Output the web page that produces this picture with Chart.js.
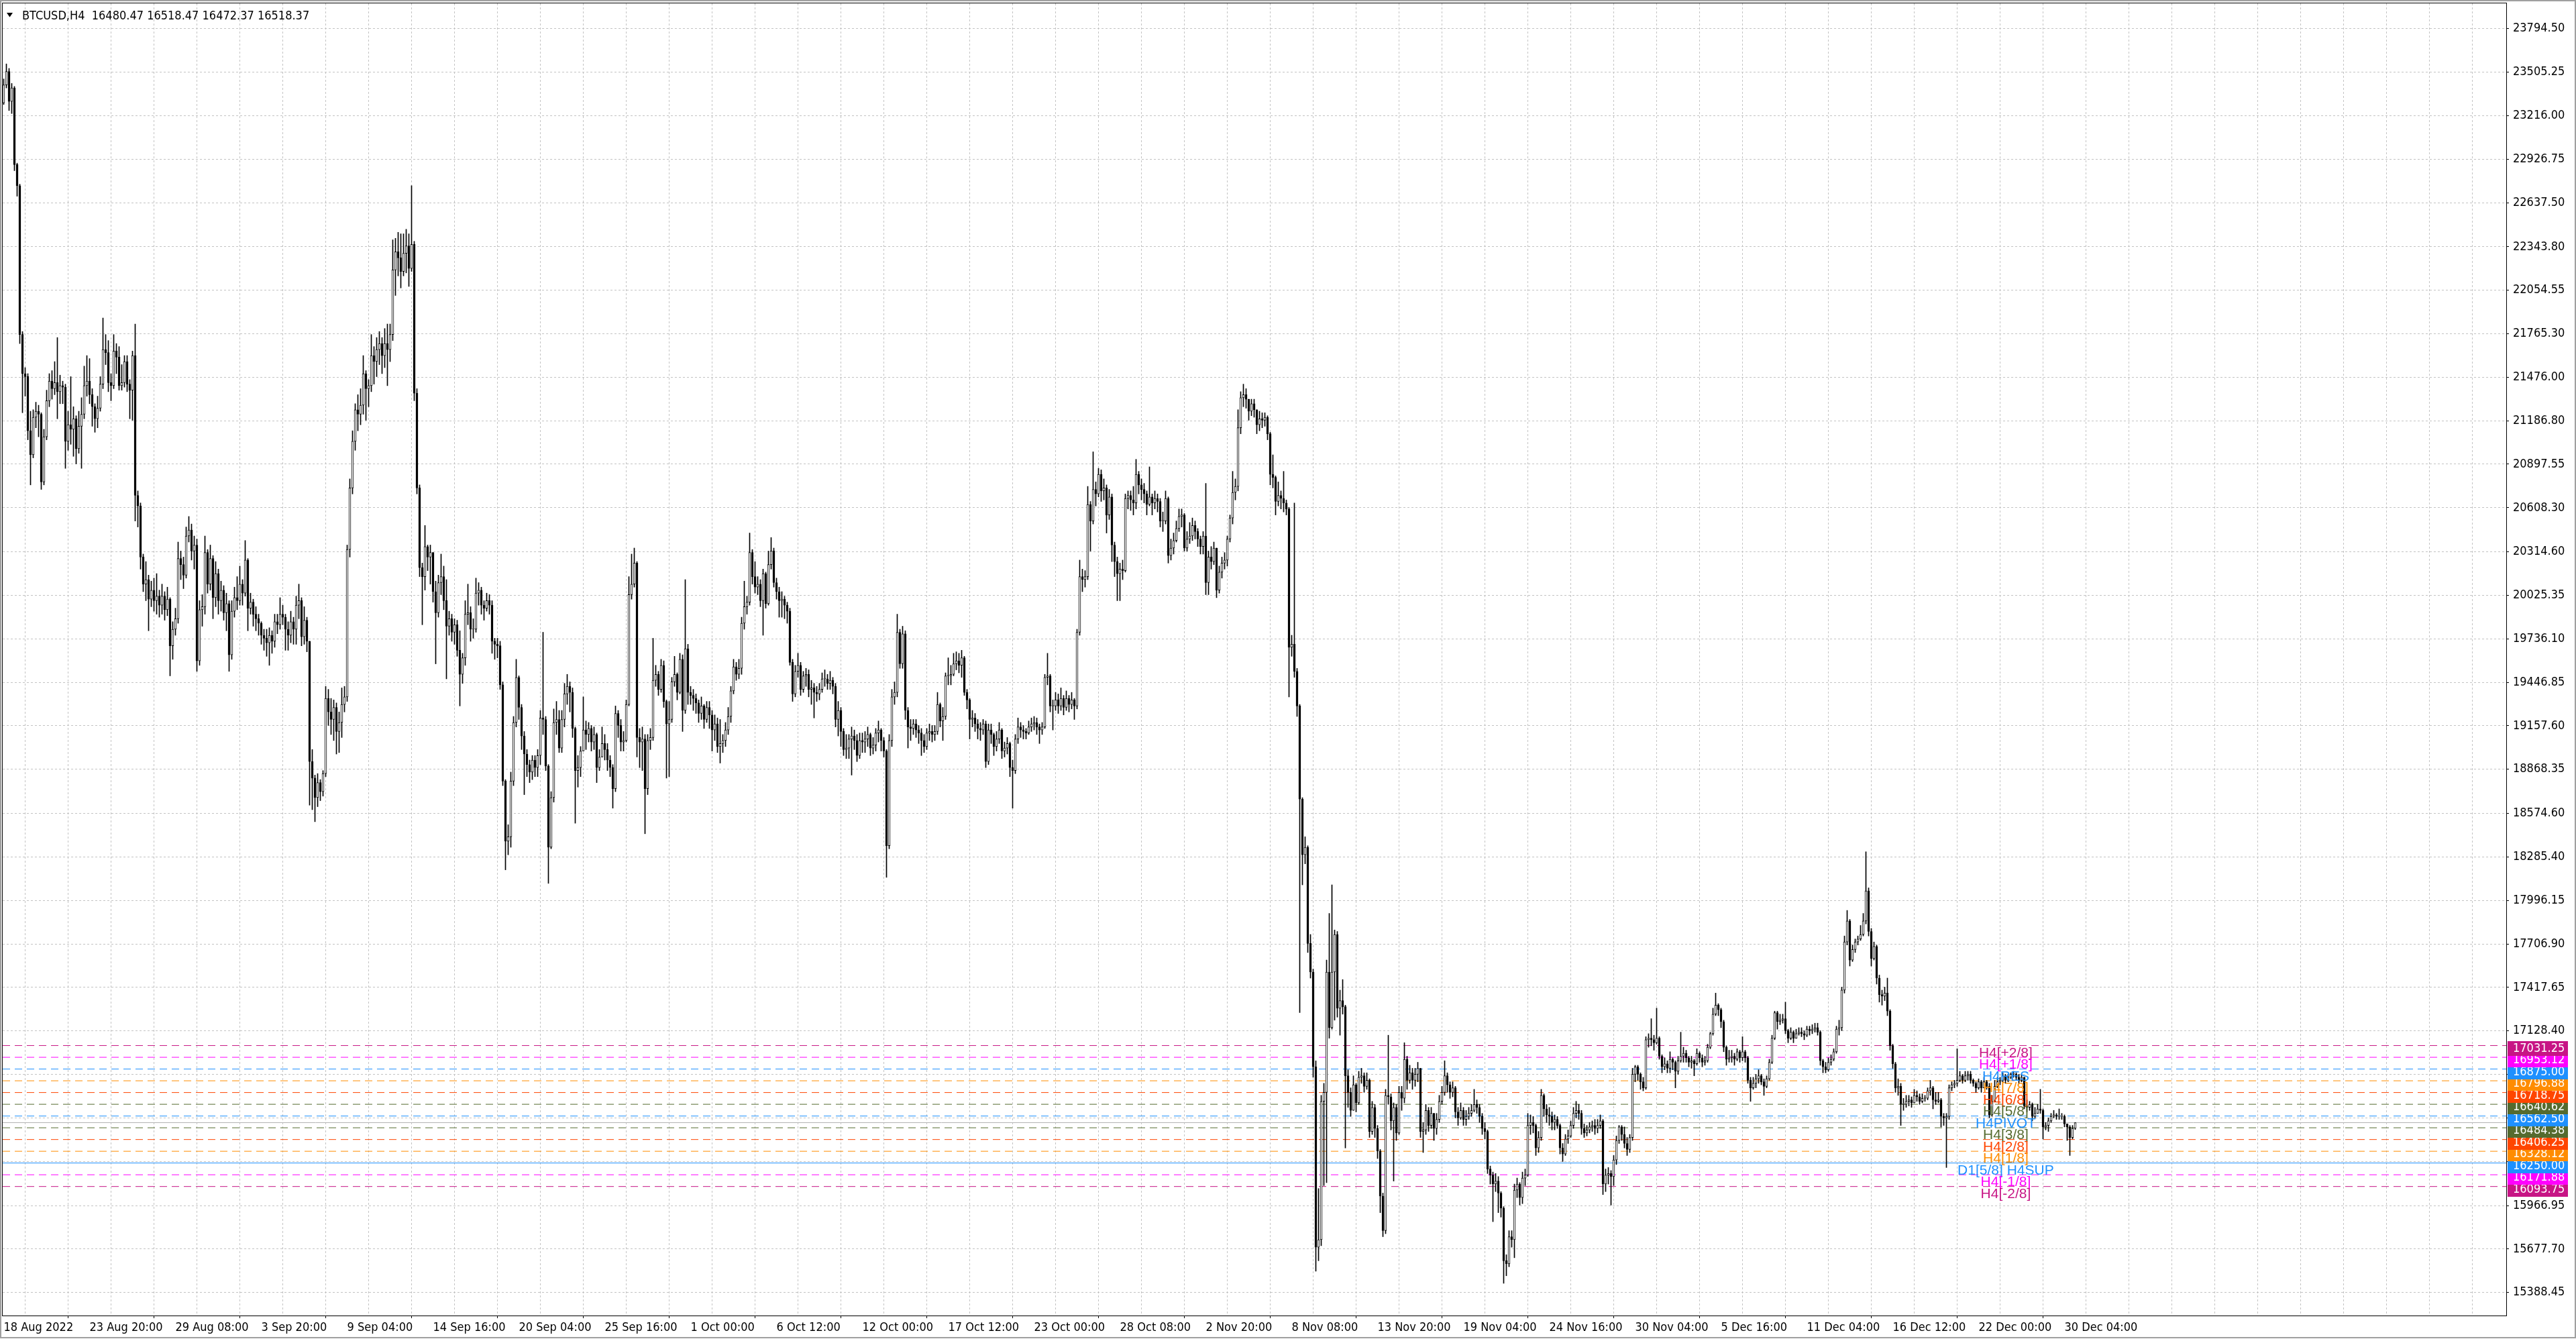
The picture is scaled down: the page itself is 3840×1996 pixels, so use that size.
<!DOCTYPE html>
<html>
<head>
<meta charset="utf-8">
<title>BTCUSD,H4</title>
<script src="https://cdn.jsdelivr.net/npm/chart.js@4.4.0/dist/chart.umd.min.js"></script>
<style>
  html, body { margin: 0; padding: 0; background: #fff; }
  #wrap { width: 3840px; height: 1996px; }
</style>
</head>
<body>
<div id="wrap"><canvas id="chart" width="3840" height="1996"></canvas></div>
<script>
// BTCUSD H4 candles, bar 0 = 18 Aug 2022 00:00, last bar = 30 Dec 2022 04:00
const closes = [
  23420,23510,23310,23400,22890,22750,21760,21500,21480,21120,20960,21210,21250,21230,20780,21080, // 0
  21320,21450,21400,21440,21380,21420,21410,21050,21160,21130,21200,21000,21150,21230,21420,21450, // 16
  21360,21280,21200,21270,21430,21660,21640,21440,21420,21650,21610,21420,21440,21580,21430,21390, // 32
  21620,20690,20620,20280,20100,20130,20000,20060,19990,20020,19960,20020,19930,20000,19690,19800, // 48
  19870,20270,20230,20160,20420,20460,20320,20360,19590,19930,19950,20310,20100,20270,20010,20170, // 64
  19990,20060,19910,19970,19630,19920,20010,19990,20100,20040,20260,19940,19980,19900,19870,19840, // 80
  19760,19740,19710,19760,19720,19850,19830,19900,19880,19800,19760,19850,19800,19960,19990,19750, // 96
  19860,19720,18920,18810,18680,18780,18720,18840,19340,19250,19200,19280,19120,19180,19300,19350, // 112
  20330,20740,21050,21260,21230,21290,21500,21400,21420,21620,21580,21660,21700,21620,21700,21660, // 128
  21760,22190,22310,22270,22180,22300,22350,22200,22360,21370,20740,20210,20150,20350,20280,20310, // 144
  20050,19910,20110,20150,19990,19820,19870,19780,19830,19660,19500,19610,19900,19910,19800,19800, // 160
  20040,20060,19960,19940,19990,19960,19720,19700,19690,19430,18790,18390,18420,18790,19180,19480, // 176
  19280,19090,18970,18900,18850,18930,18880, // 192
  18960,19210,19200,18890,18350,18680,19180,19200,19010, // 199
  19200,19370,19420,19380,19140,18860,18880,18990,19130,19100,19140,19050,19100,18880,18950,19040, // 208
  19000,18930,18880,18740,19240,19160,19050,19060,19300,20030,20100,20240,19080,19050,19070,18740, // 224
  19060,19080,19460,19500,19400,19560,19320,19170,19200,19450,19500,19380,19600,19260,19670,19380, // 240
  19360,19340,19310,19240,19290,19200,19280,19230,19130,19170,19020,19040,19060,19130,19220,19390, // 256
  19550,19500,19540,19840,19950,19980,20310,20150,20080,20100,19990,20170,19970,20230,20320,20110, // 272
  20050,19990,20000,19960,19920,19580,19370,19520,19560,19400,19490,19500,19400,19410,19380,19370, // 288
  19400,19470,19470,19440,19460,19420,19200,19260,19120,19000,19010,19070,19090,19060,18960,19060, // 304
  19050,19070,19100,19010,19030,19110,19130,19060,18990,18360,19060,19350,19380,19780,19570,19770, // 320
  19260,19150,19140,19170,19130,19110,19060,19020,19110,19120,19100,19120,19300,19190,19220,19490, // 336
  19490,19500,19570,19590,19560,19610,19380,19330,19200,19210,19170,19140,19130,19170,18920,19130, // 352
  19100,19020,19070,19130,18990,19010,19040,18880,18860,19070,19150,19130,19120,19110,19150,19170, // 368
  19180,19150,19130,19150,19480,19490,19290,19290,19330,19290,19340,19280,19340,19300,19330, // 384
  19290,19780,20150,20130,20150,20630,20520,20730,20700,20830,20720,20740,20560,20680,20360,20250,20170, // 399
  20200,20190,20670,20690,20660,20640,20830,20760,20730,20700,20630,20680,20640,20670,20650,20520, // 416
  20520,20670,20290,20340,20390,20470,20550,20560,20340,20400,20420,20490,20450,20400,20350,20420, // 432
  20110,20280,20250,20340,20060,20180,20240,20260,20400,20540,20710,20750,21140,21340,21360,21330, // 448
  21250,21300,21260,21160,21200,21190,21210,21100,20830,20810,20650,20690,20670,20640,20600,19680, // 464
  19700,19520,19290,18670,18300,18350,17710,17520,16890,15690,15740,16660,16720,17520,17150,17520, // 480
  17770,17280,17330,17290,16830,16720,16600,16770,16650,16820,16830,16760,16800,16460,16620,16480, // 496
  16330,16030,15800,16700,16690,16530,16620,16450,16720,16680,16940,16800,16850,16800,16840,16880, // 512
  16460,16470,16600,16500,16580,16480,16540,16660,16720,16830,16770,16720,16750,16590,16550,16600, // 528
  16540,16560,16580,16600,16640,16620,16560,16480,16460,16210,16170,16110,16130,16050,15950,15600, // 544
  15580,15760,15740,16070,16110,16020,16150,16170,16500,16520,16500,16350,16420,16700,16610,16570, // 560
  16560,16520,16540,16500,16350,16310,16410,16430,16500,16580,16600,16580,16480,16450,16470,16490, // 576
  16500,16480,16500,16530,16110,16170,16180, // 592
  16160,16270,16400,16490,16440,16380,16340,16420,16840,16890,16840,16790,16750,17070,17080,17070,17050, // 599
  17080,16960,16890,16910,16880,16940,16920,16860,16930,16960,16980,16950,16920,16930,16910,16980, // 616
  16950,16920,16930,17020,17110,17240,17300,17270,17190,17020,16940,16950,16960,16940,16990,16950, // 632
  16990,16950,16800,16750,16780,16810,16830,16790,16760,16810,16920,17080,17250,17190,17200,17210, // 648
  17130,17080,17120,17080,17110,17120,17110,17100,17140,17130,17140,17150,17120,16930,16890,16870, // 664
  16920,16940,16990,17140,17150,17400,17720,17860,17600,17670,17720,17740,17770,17860,18060,17790, // 680
  17610,17690,17480,17370,17360,17380,17260,17030,16910,16750,16760,16640,16640,16660,16670,16650, // 696
  16700,16690,16660,16680,16680,16730,16750,16670,16660,16670,16560,16550,16560,16750,16770,16780, // 712
  16800,16830,16800,16830,16840,16800,16780,16750,16790,16750,16790,16760,16570,16660,16760,16790, // 728
  16800,16830,16800,16820,16840,16840,16820,16800,16820,16630,16620,16640,16560,16580,16610,16600, // 744
  16490,16500,16530,16560,16570,16560,16560,16560,16510,16490,16420,16480.47,16518.37 // 760
];
const highs = [
  23460,23560,23530,23430,23410,22900,22760,21780,21540,21500,21250,21260,21310,21290,21240,21130, // 0
  21390,21500,21520,21580,21740,21490,21450,21430,21250,21480,21280,21220,21250,21340,21550,21620, // 16
  21600,21400,21300,21350,21480,21870,21760,21720,21500,21760,21700,21680,21560,21620,21620,21460, // 32
  21650,21830,20720,20640,20300,20250,20160,20120,20140,20170,20060,20100,20050,20080,20010,19850, // 48
  19940,20380,20320,20280,20480,20550,20500,20420,20400,19990,20030,20420,20330,20360,20290,20250, // 64
  20200,20120,20090,20040,19990,19990,20080,20150,20220,20130,20390,20270,20040,20000,19950,19900, // 80
  19850,19800,19800,19810,19790,19900,19900,20010,19960,19900,19850,19920,19880,20020,20100,20010, // 96
  19950,19880,19720,19000,18830,18840,18800,18860,19420,19400,19340,19330,19310,19250,19410,19420, // 112
  20360,20800,21120,21300,21360,21400,21620,21520,21460,21760,21680,21740,21780,21740,21800,21830, // 128
  21830,22390,22400,22440,22430,22430,22460,22430,22750,22380,21400,20760,20240,20490,20360,20360, // 144
  20300,20120,20160,20300,20220,20130,19920,19900,19870,19860,19790,19640,19990,20100,19950,19870, // 160
  20140,20110,20080,19990,20040,20030,19990,19740,19740,19720,19450,18800,18500,18850,19220,19600, // 176
  19490,19300,19120,19000,18930,18960,18960, // 192
  19000,19260,19780,19220,18900,18720,19270,19320,19260, // 199
  19260,19440,19500,19450,19410,19150,18960,19020,19350,19190,19180,19160,19150,19110,19000,19150, // 208
  19100,19040,18960,18900,19290,19260,19200,19120,19330,20150,20300,20340,20250,19140,19150,19100, // 224
  19100,19140,19740,19560,19520,19600,19590,19330,19320,19480,19620,19510,19640,19630,20130,19700, // 240
  19420,19400,19370,19330,19350,19300,19320,19320,19260,19230,19210,19200,19100,19180,19280,19420, // 256
  19600,19580,19600,19880,20120,20020,20440,20330,20250,20150,20130,20200,20180,20320,20410,20340, // 272
  20140,20080,20050,20020,19980,19940,19600,19560,19640,19580,19520,19540,19530,19460,19440,19420, // 288
  19440,19510,19530,19500,19520,19480,19440,19320,19280,19140,19100,19100,19150,19130,19100,19110, // 304
  19110,19120,19150,19110,19080,19140,19190,19140,19080,19000,19100,19400,19450,19900,19800,19820, // 320
  19790,19280,19200,19200,19200,19160,19140,19100,19140,19170,19160,19160,19380,19310,19280,19510, // 336
  19610,19560,19640,19650,19640,19660,19620,19400,19340,19260,19240,19200,19180,19200,19190,19170, // 352
  19170,19110,19120,19180,19140,19050,19080,19050,18930,19100,19210,19180,19160,19140,19190,19210, // 368
  19220,19210,19170,19180,19500,19640,19500,19330,19380,19370,19410,19360,19390,19360,19380, // 384
  19340,19800,20260,20200,20190,20750,20650,20980,20780,20870,20860,20800,20760,20730,20700,20380,20280, // 399
  20240,20260,20700,20720,20720,20750,20930,20850,20800,20770,20720,20880,20700,20720,20700,20670, // 416
  20580,20720,20680,20400,20440,20520,20600,20600,20570,20450,20510,20540,20520,20470,20420,20450, // 432
  20770,20320,20350,20380,20340,20220,20280,20310,20420,20560,20850,20800,21260,21380,21430,21400, // 448
  21320,21330,21330,21260,21250,21240,21240,21220,21110,20960,20820,20780,20720,20850,20660,20610, // 464
  19760,20640,19540,19300,18680,18420,18360,17770,17540,16930,16080,16700,16780,17600,17910,18100, // 480
  17800,17790,17400,17470,17300,16870,16750,16830,16780,16860,16880,16850,16850,16810,16660,16640, // 496
  16500,16340,16050,16740,17100,16710,16650,16640,16760,16760,17050,16960,16900,16880,16880,16920, // 512
  16880,16520,16640,16620,16620,16560,16580,16700,16760,16930,16850,16790,16790,16760,16620,16650, // 528
  16620,16600,16620,16640,16740,16670,16640,16580,16520,16470,16230,16190,16180,16160,16060,15960, // 544
  15640,15800,15800,16110,16150,16120,16190,16210,16580,16570,16560,16510,16460,16740,16710,16640, // 560
  16620,16590,16570,16560,16510,16380,16440,16470,16530,16620,16660,16640,16600,16510,16500,16520, // 576
  16530,16540,16540,16570,16540,16210,16220, // 592
  16200,16300,16430,16500,16500,16490,16420,16440,16880,16900,16900,16850,16820,17090,17110,17210,17100, // 599
  17280,17090,16970,16950,16930,16990,16950,16930,16960,17120,17020,17000,16960,16960,16940,17010, // 616
  16990,16970,16960,17040,17120,17280,17380,17310,17280,17200,17030,17000,17000,16980,17010,17000, // 632
  17090,17000,16960,16820,16820,16840,16870,16840,16810,16830,16940,17100,17260,17260,17240,17240, // 648
  17320,17140,17150,17130,17140,17150,17150,17130,17160,17160,17170,17180,17180,17130,16940,16920, // 664
  16950,16970,17010,17160,17200,17420,17760,17930,17870,17700,17740,17760,17830,17910,18320,18080, // 680
  17810,17720,17700,17500,17400,17420,17480,17270,17040,16920,16810,16780,16680,16700,16700,16690, // 696
  16740,16730,16710,16710,16700,16750,16800,16760,16720,16720,16680,16580,16580,16770,16790,16800, // 712
  17010,16860,16840,16860,16860,16860,16810,16790,16810,16800,16820,16800,16780,16700,16800,16820, // 728
  16820,16850,16840,16840,16850,16860,16850,16840,16840,16820,16670,16660,16650,16620,16640,16740, // 744
  16610,16520,16550,16580,16600,16580,16610,16580,16570,16510,16500,16500,16518.47 // 760
];
const lows = [
  23290,23400,23250,23230,22850,22680,21700,21240,21350,21060,20760,20940,21140,21080,20730,20760, // 0
  21060,21280,21330,21360,21200,21300,21300,20870,20990,21030,20950,20900,20970,20870,21200,21350, // 16
  21300,21150,21110,21140,21250,21400,21560,21380,21320,21400,21500,21390,21390,21410,21380,21200, // 32
  21190,20520,20480,20200,20050,19990,19790,19950,19920,19900,19880,19900,19860,19890,19490,19600, // 48
  19760,19840,20130,20070,20140,20380,20260,20200,19520,19560,19820,19900,20040,20060,19870,19950, // 64
  19900,19920,19860,19790,19520,19600,19880,19930,19960,19960,20020,19790,19900,19820,19790,19760, // 80
  19700,19660,19620,19560,19640,19680,19770,19800,19830,19660,19660,19710,19700,19700,19870,19690, // 96
  19700,19650,18630,18600,18520,18620,18660,18690,18820,19160,19100,19060,18970,18980,19080,19250, // 112
  19320,20280,20700,20990,21120,21160,21230,21190,21280,21380,21430,21480,21560,21500,21540,21420, // 128
  21580,21720,22020,22150,22070,22150,22170,22080,22180,21320,20700,20150,19830,20060,20190,20100, // 144
  19980,19570,19880,20030,19930,19470,19760,19720,19700,19620,19290,19440,19560,19830,19720,19740, // 160
  19780,19960,19900,19860,19920,19900,19640,19600,19610,19400,18760,18200,18300,18350,18760,19150, // 176
  19200,19000,18700,18820,18780,18800,18820, // 192
  18820,18900,19100,18860,18110,18340,18650,19100,18980, // 199
  18980,19150,19300,19250,19080,18510,18750,18820,19000,19000,19050,18990,19000,18780,18860,18980, // 208
  18930,18860,18820,18610,18720,19080,18990,18990,19050,19290,20000,20080,18950,18880,18860,18440, // 224
  18700,19000,19060,19420,19360,19380,19280,18810,18820,19180,19420,19330,19370,19120,19240,19300, // 240
  19300,19260,19240,19180,19200,19140,19180,19140,18990,19060,18980,18910,18980,19020,19100,19180, // 256
  19370,19460,19470,19500,19800,19900,19960,20100,20040,20030,19950,19760,19940,19960,20200,20080, // 272
  20000,19880,19880,19870,19840,19560,19320,19350,19480,19360,19380,19420,19350,19300,19210,19320, // 288
  19330,19380,19420,19400,19400,19370,19150,19090,19020,18960,18940,18940,18830,19000,18920,18940, // 304
  18980,18980,19020,18960,18970,18990,19050,18990,18950,18150,18340,19020,19300,19350,19540,19540, // 320
  19200,19010,19060,19100,19080,19040,18960,18980,19000,19060,19050,19060,19100,19150,19060,19200, // 336
  19430,19430,19490,19530,19510,19480,19360,19270,19070,19150,19120,19070,19060,19100,18880,18900, // 352
  19040,18960,18990,19040,18940,18950,18970,18820,18610,18840,19040,19080,19070,19070,19100,19120, // 368
  19130,19100,19040,19100,19140,19430,19250,19130,19260,19240,19260,19230,19260,19250,19270, // 384
  19200,19270,19760,20050,20080,20130,20320,20500,20620,20680,20650,20660,20440,20530,20250,20150,19990, // 399
  19990,20130,20180,20600,20590,20560,20600,20700,20660,20640,20560,20620,20560,20600,20580,20480, // 416
  20450,20500,20240,20260,20300,20380,20450,20480,20320,20320,20370,20390,20400,20350,20300,20300, // 432
  20030,20030,20200,20230,20010,20040,20140,20200,20220,20380,20500,20660,20720,21100,21280,21270, // 448
  21190,21220,21210,21100,21120,21140,21150,21060,20760,20740,20560,20620,20600,20580,20560,19350, // 464
  19620,19480,19220,17250,18100,18240,17650,17480,16820,15530,15600,15700,16100,16120,17080,17140, // 480
  17200,17220,17100,17240,16350,16620,16560,16600,16590,16640,16780,16720,16740,16420,16440,16420, // 496
  16280,15920,15760,15780,16640,16470,16130,16400,16440,16600,16650,16740,16780,16740,16760,16790, // 512
  16420,16320,16440,16460,16480,16400,16440,16520,16640,16700,16720,16680,16690,16550,16500,16540, // 528
  16500,16500,16540,16560,16590,16580,16520,16440,16410,16180,16110,15860,16060,15920,15890,15450, // 544
  15500,15560,15690,15620,16020,15970,15980,16100,16160,16440,16450,16300,16320,16400,16560,16520, // 560
  16500,16470,16470,16480,16310,16260,16300,16380,16420,16480,16550,16540,16440,16420,16430,16450, // 576
  16460,16440,16450,16480,16040,16060,16110, // 592
  15970,16100,16240,16380,16400,16350,16300,16320,16400,16790,16800,16740,16730,16740,17020,17030,17000, // 599
  17040,16940,16850,16870,16850,16850,16870,16750,16840,16920,16920,16920,16890,16880,16830,16900, // 616
  16920,16890,16900,16920,17010,17100,17230,17230,17150,16990,16900,16920,16920,16900,16930,16920, // 632
  16930,16920,16780,16660,16740,16750,16780,16770,16700,16750,16800,16910,17070,17140,17170,17180, // 648
  17110,17050,17070,17050,17080,17100,17090,17070,17090,17100,17110,17120,17100,16900,16850,16850, // 664
  16860,16900,16930,16980,17100,17130,17380,17700,17560,17590,17650,17700,17730,17760,17840,17760, // 680
  17560,17600,17440,17320,17300,17330,17230,17000,16880,16720,16700,16500,16600,16620,16630,16620, // 696
  16660,16660,16640,16650,16660,16670,16700,16610,16640,16650,16490,16500,16220,16540,16730,16750, // 712
  16760,16790,16780,16790,16800,16780,16760,16720,16740,16720,16750,16740,16550,16560,16700,16750, // 728
  16770,16790,16780,16790,16810,16820,16800,16780,16790,16610,16590,16600,16530,16550,16580,16580, // 744
  16410,16470,16460,16520,16550,16540,16540,16540,16490,16400,16300,16410,16472.37 // 760
];
const firstOpen = 23300;

// time axis labels, one every 32 bars
const timeLabels = ['18 Aug 2022', '23 Aug 20:00', '29 Aug 08:00', '3 Sep 20:00', '9 Sep 04:00',
  '14 Sep 16:00', '20 Sep 04:00', '25 Sep 16:00', '1 Oct 00:00', '6 Oct 12:00', '12 Oct 00:00',
  '17 Oct 12:00', '23 Oct 00:00', '28 Oct 08:00', '2 Nov 20:00', '8 Nov 08:00', '13 Nov 20:00',
  '19 Nov 04:00', '24 Nov 16:00', '30 Nov 04:00', '5 Dec 16:00', '11 Dec 04:00', '16 Dec 12:00',
  '22 Dec 00:00', '30 Dec 04:00'];

const priceTicks = [23794.50, 23505.25, 23216.00, 22926.75, 22637.50, 22343.80, 22054.55, 21765.30,
  21476.00, 21186.80, 20897.55, 20608.30, 20314.60, 20025.35, 19736.10, 19446.85, 19157.60, 18868.35,
  18574.60, 18285.40, 17996.15, 17706.90, 17417.65, 17128.40, 16839.15, 16549.90, 16260.65, 15966.95,
  15677.70, 15388.45];

// Murrey-style H4 levels
const levelPrices = [17031.25, 16953.12, 16875.00, 16796.88, 16718.75, 16640.62, 16562.50,
  16484.38, 16406.25, 16328.12, 16250.00, 16171.88, 16093.75];
const levelNames = ['H4[+2/8]', 'H4[+1/8]', 'H4RES', 'H4[7/8]', 'H4[6/8]', 'H4[5/8]', 'H4PIVOT',
  'H4[3/8]', 'H4[2/8]', 'H4[1/8]', 'D1[5/8] H4SUP', 'H4[-1/8]', 'H4[-2/8]'];
const bidPrice = 16518.37;
const headerText = 'BTCUSD,H4  16480.47 16518.47 16472.37 16518.37';

// styles
const levelColors = ['#c71585', '#ff00ff', '#1e90ff', '#ff8c00', '#ff4500', '#556b2f', '#1e90ff',
  '#556b2f', '#ff4500', '#ff8c00', '#1e90ff', '#ff00ff', '#c71585'];
const solidLevel = 10;
const axisFamily = '"DejaVu Sans Condensed", "DejaVu Sans", sans-serif';
const gridColor = '#c3c3c3';
const xMin = -0.375, xMax = 932.625;
const yMin = 15235.7, yMax = 23962.7;
const levelLabelBar = 746.1;

const n = Math.min(closes.length, highs.length, lows.length);
const opens = [];
for (let i = 0; i < n; i++) opens.push(i === 0 ? firstOpen : closes[i - 1]);

const wickData = [], bodyData = [], bodyColors = [];
for (let i = 0; i < n; i++) {
  const o = opens[i], c = closes[i];
  const hi = Math.max(highs[i], o, c), lo = Math.min(lows[i], o, c);
  wickData.push({ x: i, y: [lo, hi] });
  bodyData.push({ x: i, y: [o, c] });
  bodyColors.push(c >= o ? '#ffffff' : '#000000');
}

const levelSets = levelPrices.map((p, i) => ({
  type: 'line',
  data: [{ x: xMin, y: p }, { x: xMax, y: p }],
  borderColor: levelColors[i],
  borderWidth: 1,
  borderDash: i === solidLevel ? [] : [11, 7],
  pointRadius: 0,
  order: 5
}));

const overlay = {
  id: 'overlay',
  beforeDraw(chart) {
    const ctx = chart.ctx;
    ctx.save();
    ctx.fillStyle = '#fff';
    ctx.fillRect(0, 0, chart.width, chart.height);
    ctx.restore();
  },
  afterDraw(chart) {
    const { ctx, chartArea: area, scales } = chart;
    const x = scales.x, y = scales.y;
    ctx.save();
    // window frame
    ctx.strokeStyle = '#a0a0a0';
    ctx.lineWidth = 2;
    ctx.strokeRect(1, 1, chart.width - 2, chart.height - 3);
    // chart frame
    ctx.strokeStyle = '#000';
    ctx.lineWidth = 1;
    ctx.strokeRect(area.left - 0.5, area.top - 0.5, area.right - area.left + 1, area.bottom - area.top + 1);

    // header
    ctx.fillStyle = '#000';
    ctx.beginPath();
    ctx.moveTo(10, 19); ctx.lineTo(19, 19); ctx.lineTo(14.5, 25.5); ctx.closePath();
    ctx.fill();
    ctx.font = '18px ' + axisFamily;
    ctx.textAlign = 'left';
    ctx.textBaseline = 'alphabetic';
    ctx.fillText(headerText, 33, 29);

    // level names
    ctx.font = '21px "Liberation Sans", Arial, sans-serif';
    ctx.textAlign = 'center';
    ctx.textBaseline = 'middle';
    const lx = x.getPixelForValue(levelLabelBar);
    levelPrices.forEach((p, i) => {
      ctx.fillStyle = levelColors[i];
      ctx.fillText(levelNames[i], lx, y.getPixelForValue(p) + 11.5);
    });

    // price tags on the axis, lowest first so upper ones sit on top
    ctx.font = '18px ' + axisFamily;
    ctx.textAlign = 'left';
    for (let i = levelPrices.length - 1; i >= 0; i--) {
      const py = Math.round(y.getPixelForValue(levelPrices[i]));
      ctx.fillStyle = levelColors[i];
      ctx.fillRect(area.right + 2, py - 7, 90, 22);
      ctx.fillStyle = '#fff';
      ctx.fillText(levelPrices[i].toFixed(2), area.right + 10, py + 4.5);
    }
    ctx.restore();
  }
};

new Chart(document.getElementById('chart'), {
  type: 'bar',
  data: {
    datasets: [
      {
        data: bodyData,
        backgroundColor: bodyColors,
        borderColor: '#000',
        borderWidth: 1,
        borderSkipped: false,
        barThickness: 3,
        minBarLength: 1,
        grouped: false,
        order: 1
      },
      {
        data: wickData,
        backgroundColor: '#000',
        borderWidth: 0,
        barThickness: 1,
        grouped: false,
        order: 2
      },
      ...levelSets,
      {
        type: 'line',
        data: [{ x: xMin, y: bidPrice }, { x: xMax, y: bidPrice }],
        borderColor: '#b4b4b4',
        borderWidth: 1,
        pointRadius: 0,
        order: 6
      }
    ]
  },
  options: {
    responsive: false,
    animation: false,
    devicePixelRatio: 1,
    layout: { padding: { left: 4, top: 5, right: 0, bottom: 0 } },
    plugins: { legend: { display: false }, tooltip: { enabled: false } },
    scales: {
      x: {
        type: 'linear',
        min: xMin,
        max: xMax,
        offset: false,
        afterBuildTicks: (scale) => {
          const t = [];
          for (let v = 0; v <= xMax; v += 16) t.push({ value: v });
          scale.ticks = t;
        },
        afterFit: (scale) => {
          scale.height = 35;
          scale.paddingLeft = 0;
          scale.paddingRight = 0;
        },
        grid: {
          color: gridColor,
          lineWidth: 1,
          drawTicks: true,
          tickLength: 4,
          tickBorderDash: [10, 0],
          tickColor: (ctx) => (ctx.tick && ctx.tick.value % 32 === 0 && ctx.tick.value / 32 < timeLabels.length) ? '#000' : 'rgba(0,0,0,0)'
        },
        border: { display: false, dash: [3, 3] },
        ticks: {
          autoSkip: false,
          maxRotation: 0,
          minRotation: 0,
          align: 'start',
          padding: 4,
          color: '#000',
          font: { family: axisFamily, size: 18 },
          callback: (v) => (v % 32 === 0 && v / 32 < timeLabels.length) ? timeLabels[v / 32] : ''
        }
      },
      y: {
        type: 'linear',
        position: 'right',
        min: yMin,
        max: yMax,
        afterBuildTicks: (scale) => { scale.ticks = priceTicks.map(v => ({ value: v })); },
        afterFit: (scale) => {
          scale.width = 104;
          scale.paddingTop = 0;
          scale.paddingBottom = 0;
        },
        grid: {
          color: gridColor,
          lineWidth: 1,
          drawTicks: true,
          tickLength: 4,
          tickBorderDash: [10, 0],
          tickColor: '#000'
        },
        border: { display: false, dash: [3, 3] },
        ticks: {
          padding: 6,
          color: '#000',
          font: { family: axisFamily, size: 18 },
          callback: (v) => Number(v).toFixed(2)
        }
      }
    }
  },
  plugins: [overlay]
});
</script>
</body>
</html>
